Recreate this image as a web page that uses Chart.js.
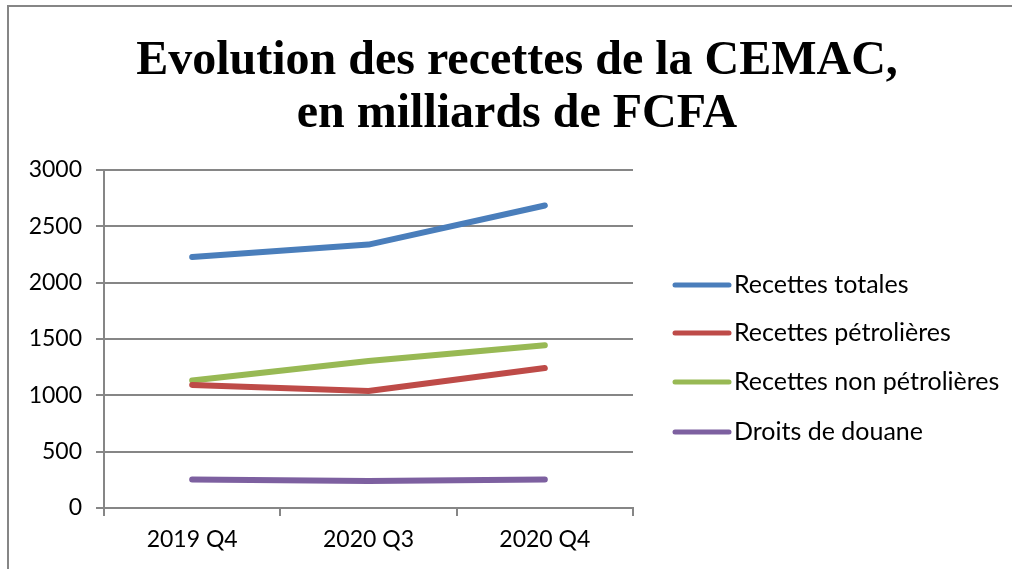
<!DOCTYPE html>
<html>
<head>
<meta charset="utf-8">
<script src="https://cdn.jsdelivr.net/npm/chart.js@4.4.0/dist/chart.umd.min.js"></script>
<style>
html,body{margin:0;padding:0;background:#fff;}
#wrap{position:absolute;left:0;top:0;width:1012px;height:569px;}
</style>
</head>
<body>
<div id="wrap"><canvas id="c" width="1012" height="569"></canvas></div>
<script>
const categories = ["2019 Q4", "2020 Q3", "2020 Q4"];
const recettesTotales = [2228, 2338, 2685];
const recettesPetrolieres = [1092, 1038, 1242];
const recettesNonPetrolieres = [1132, 1305, 1445];
const droitsDouane = [252, 240, 252];
const seriesLabels = ["Recettes totales", "Recettes pétrolières", "Recettes non pétrolières", "Droits de douane"];
const seriesColors = ["#4a7ebb", "#be4b48", "#98b954", "#7d60a0"];
const titleLines = ["Evolution des recettes de la CEMAC,", "en milliards de FCFA"];

const SANS = "Lato, 'Open Sans', sans-serif";
const GRID = "#868686";

const decor = {
  id: 'decor',
  beforeDraw(chart) {
    const ctx = chart.ctx;
    ctx.save();
    ctx.fillStyle = '#fff';
    ctx.fillRect(0, 0, chart.width, chart.height);
    ctx.strokeStyle = GRID;
    ctx.lineWidth = 2;
    ctx.beginPath();
    ctx.moveTo(8, 569);
    ctx.lineTo(8, 6);
    ctx.lineTo(1012, 6);
    ctx.stroke();
    // title
    ctx.fillStyle = '#000';
    ctx.font = "bold 48px 'Liberation Serif', 'Times New Roman', serif";
    ctx.textAlign = 'center';
    ctx.textBaseline = 'alphabetic';
    ctx.fillText(titleLines[0], 517, 74);
    ctx.fillText(titleLines[1], 517, 127);
    ctx.restore();
  },
  afterDraw(chart) {
    const ctx = chart.ctx;
    ctx.save();
    const ys = [285, 333, 382, 432];
    chart.data.datasets.forEach((ds, i) => {
      const y = ys[i];
      ctx.strokeStyle = ds.borderColor;
      ctx.lineWidth = 5;
      ctx.lineCap = 'round';
      ctx.beginPath();
      ctx.moveTo(675, y);
      ctx.lineTo(729, y);
      ctx.stroke();
      ctx.fillStyle = '#000';
      ctx.font = "25px " + SANS;
      ctx.textAlign = 'left';
      ctx.textBaseline = 'middle';
      ctx.fillText(ds.label, 734, y);
    });
    ctx.restore();
  }
};

const seriesData = [recettesTotales, recettesPetrolieres, recettesNonPetrolieres, droitsDouane];

new Chart(document.getElementById('c'), {
  type: 'line',
  data: {
    labels: categories,
    datasets: seriesData.map((d, i) => ({
      label: seriesLabels[i],
      data: d,
      borderColor: seriesColors[i],
      backgroundColor: seriesColors[i],
      borderWidth: 6,
      borderCapStyle: 'round',
      borderJoinStyle: 'round',
      pointRadius: 0,
      tension: 0,
      fill: false
    }))
  },
  options: {
    responsive: false,
    animation: false,
    devicePixelRatio: 1,
    layout: { padding: { left: 0, right: 379, top: 170, bottom: 0 } },
    plugins: {
      legend: { display: false },
      title: { display: false },
      tooltip: { enabled: false }
    },
    scales: {
      x: {
        offset: true,
        grid: { display: true, drawOnChartArea: false, drawTicks: true, tickLength: 8, color: GRID, lineWidth: 2, offset: true },
        border: { display: true, color: GRID, width: 2 },
        ticks: { color: '#000', font: { family: SANS, size: 23 }, padding: 10, maxRotation: 0 },
        afterFit(s) { s.height = 61; }
      },
      y: {
        min: 0, max: 3000,
        ticks: { stepSize: 500, color: '#000', font: { family: SANS, size: 23 }, padding: 14,
                 callback: (v) => String(v) },
        grid: { color: GRID, lineWidth: 2, drawTicks: true, tickLength: 8 },
        border: { display: true, color: GRID, width: 2 },
        afterFit(s) { s.width = 104; }
      }
    }
  },
  plugins: [decor]
});
</script>
</body>
</html>
